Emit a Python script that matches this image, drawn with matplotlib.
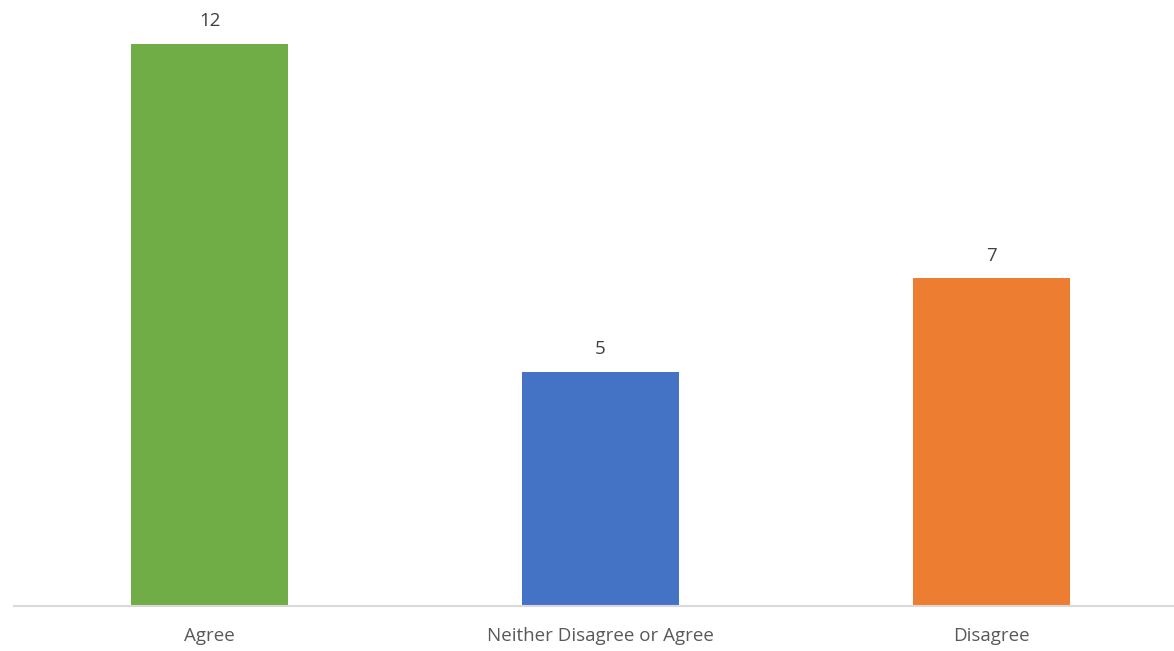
import matplotlib.pyplot as plt

categories = ["Agree", "Neither Disagree or Agree", "Disagree"]
counts = [12, 5, 7]
bar_colors = ["#70AD47", "#4472C4", "#ED7D31"]

plt.rcParams['font.family'] = ['Open Sans', 'DejaVu Sans']

fig = plt.figure(figsize=(11.74, 6.51), dpi=100)
ax = fig.add_axes([14 / 1174, 45 / 651, 1173 / 1174, 600 / 651])

x = range(len(categories))
bars = ax.bar(x, counts, width=0.40, color=bar_colors)

for b, v in zip(bars, counts):
    ax.text(b.get_x() + b.get_width() / 2, v + 0.28, str(v),
            ha='center', va='bottom', fontsize=13.5, color='#404040')

ax.set_xlim(-0.5, 2.5)
ax.set_ylim(0, 12.8)
ax.set_xticks(list(x))
ax.set_xticklabels(categories, fontsize=13.5, color='#595959')
ax.tick_params(axis='x', length=0, pad=15)
ax.set_yticks([])

for side in ['top', 'right', 'left']:
    ax.spines[side].set_visible(False)
ax.spines['bottom'].set_color('#D9D9D9')
ax.spines['bottom'].set_linewidth(1.5)

fig.savefig("out.png", dpi=100)
